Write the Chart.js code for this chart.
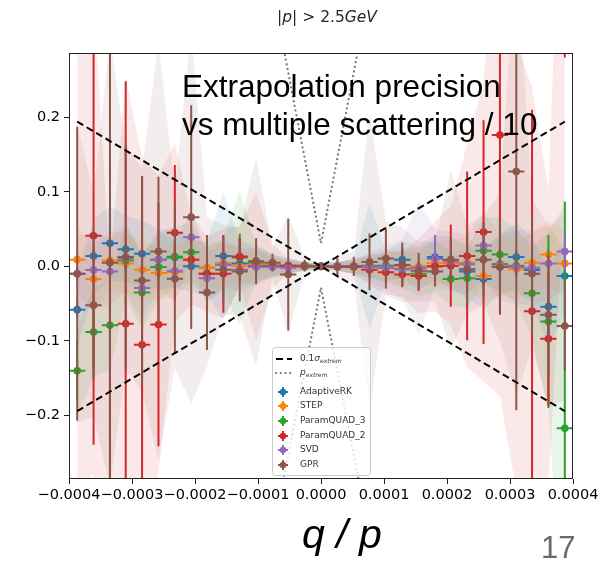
<!DOCTYPE html>
<html>
<head>
<meta charset="utf-8">
<script src="https://cdn.jsdelivr.net/npm/chart.js@4.4.0/dist/chart.umd.min.js"></script>
<style>
  html, body { margin: 0; padding: 0; background: #fff; }
  #wrap { position: relative; width: 611px; height: 561px; overflow: hidden; }
  #chart { position: absolute; left: 0; top: 0; }
  .title { position: absolute; left: 227px; top: 8px; width: 200px; text-align: center;
           font: 15.5px "DejaVu Sans"; color: #262626; }
  .title i { font-style: oblique; }
  .note { position: absolute; left: 182px; top: 67px; font: 31.5px "Liberation Sans"; line-height: 38px;
          color: #000; white-space: nowrap; }
  .xlabel { position: absolute; left: 302px; top: 511px; font: italic 41px "Liberation Sans"; color: #000;
            white-space: nowrap; }
  .page { position: absolute; left: 541px; top: 530px; font: 31px "Liberation Sans"; color: #6a6a6a; }
</style>
</head>
<body>
<div id="wrap">
  <canvas id="chart" width="611" height="561"></canvas>
  <div class="title">|<i>p</i>| &gt; 2.5<i>GeV</i></div>
  <div class="note">Extrapolation precision<br>vs multiple scattering / 10</div>
  <div class="xlabel">q / p</div>
  <div class="page">17</div>
</div>
<script>
// q/p bin centres (31 bins over ±0.0004)
const binX = [-0.000387, -0.000361, -0.000335, -0.000310, -0.000284, -0.000258, -0.000232, -0.000206,
  -0.000181, -0.000155, -0.000129, -0.000103, -0.000077, -0.000052, -0.000026, 0,
  0.000026, 0.000052, 0.000077, 0.000103, 0.000129, 0.000155, 0.000181, 0.000206,
  0.000232, 0.000258, 0.000284, 0.000310, 0.000335, 0.000361, 0.000387];
const binHalf = 0.0000129;

const xTicks = [-0.0004, -0.0003, -0.0002, -0.0001, 0, 0.0001, 0.0002, 0.0003, 0.0004];
const yTicks = [-0.2, -0.1, 0, 0.1, 0.2];

// mean residual per bin, error bar, and shaded spread
const adaptiveRK = [-0.058, 0.014, 0.031, 0.023, 0.017, 0.009, 0.012, 0.0, -0.002, 0.014, 0.004, 0.002, 0.001, 0.001, 0.0, 0.0,
  0.0, 0.0, 0.001, 0.001, 0.009, -0.002, 0.0125, 0.005, -0.007, -0.017, 0.003, 0.0125, -0.005, -0.054, -0.013];
const adaptiveRKErr = [0.01, 0.008, 0.008, 0.008, 0.008, 0.008, 0.008, 0.006, 0.006, 0.006, 0.005, 0.004, 0.003, 0.002, 0.002, 0.001,
  0.002, 0.002, 0.003, 0.004, 0.016, 0.005, 0.01, 0.006, 0.006, 0.008, 0.008, 0.008, 0.008, 0.01, 0.01];
const adaptiveRKSpread = [0.05, 0.05, 0.05, 0.045, 0.045, 0.04, 0.04, 0.035, 0.035, 0.085, 0.03, 0.025, 0.015, 0.01, 0.006, 0.003,
  0.006, 0.01, 0.085, 0.02, 0.025, 0.03, 0.03, 0.035, 0.035, 0.04, 0.04, 0.045, 0.045, 0.05, 0.05];

const step = [0.009, -0.017, 0.008, 0.004, -0.0045, -0.009, -0.008, 0.009, -0.002, 0.0045, 0.0, 0.002, 0.001, 0.0, 0.0, 0.0,
  0.0, 0.0, 0.0, -0.001, 0.0, 0.0, 0.0045, 0.005, 0.005, -0.013, 0.001, -0.004, 0.005, 0.016, 0.004];
const stepErr = [0.008, 0.008, 0.008, 0.007, 0.007, 0.007, 0.006, 0.006, 0.005, 0.005, 0.004, 0.003, 0.003, 0.002, 0.002, 0.001,
  0.002, 0.002, 0.003, 0.003, 0.004, 0.005, 0.005, 0.006, 0.006, 0.007, 0.007, 0.007, 0.008, 0.008, 0.008];
const stepSpread = [0.045, 0.045, 0.04, 0.04, 0.04, 0.035, 0.035, 0.03, 0.03, 0.03, 0.025, 0.02, 0.012, 0.008, 0.005, 0.003,
  0.005, 0.008, 0.012, 0.02, 0.025, 0.025, 0.03, 0.03, 0.035, 0.035, 0.04, 0.04, 0.04, 0.045, 0.045];

const paramQuad3 = [-0.140, -0.088, -0.079, 0.008, -0.035, -0.001, 0.013, 0.019, -0.01, 0.002, 0.012, 0.005, 0.001, 0.0, 0.0, 0.0,
  0.0, 0.0, 0.0, -0.002, -0.004, -0.01, 0.0, -0.017, -0.016, 0.021, 0.016, 0.001, -0.036, -0.074, -0.217];
const paramQuad3Err = [0.04, 0.05, 0.15, 0.02, 0.02, 0.02, 0.02, 0.02, 0.01, 0.01, 0.032, 0.01, 0.005, 0.003, 0.002, 0.001,
  0.002, 0.003, 0.004, 0.005, 0.006, 0.008, 0.01, 0.01, 0.01, 0.015, 0.015, 0.015, 0.03, 0.116, 0.304];
const paramQuad3Spread = [0.06, 0.06, 0.06, 0.05, 0.05, 0.045, 0.04, 0.04, 0.035, 0.035, 0.09, 0.025, 0.015, 0.01, 0.006, 0.003,
  0.006, 0.01, 0.015, 0.02, 0.025, 0.03, 0.035, 0.035, 0.04, 0.045, 0.05, 0.05, 0.06, 0.12, 0.3];

const paramQuad2 = [null, 0.041, -0.30, -0.077, -0.105, -0.078, 0.045, 0.009, -0.01, -0.01, 0.0134, 0.0, 0.0, 0.001, 0.0, 0.0,
  0.0, -0.001, -0.0045, -0.008, -0.011, -0.013, 0.0, 0.001, 0.014, 0.046, 0.176, null, -0.060, -0.097, 0.40];
const paramQuad2Err = [0, 0.28, 0.354, 0.325, 0.224, 0.163, 0.091, 0.012, 0.02, 0.052, 0.025, 0.008, 0.005, 0.004, 0.003, 0.002,
  0.003, 0.004, 0.01, 0.012, 0.015, 0.02, 0.01, 0.055, 0.113, 0.15, 0.24, 0, 0.27, 0.09, 0.12];
const paramQuad2Spread = [0.3, 0.32, 0.3, 0.33, 0.25, 0.2, 0.12, 0.06, 0.05, 0.06, 0.04, 0.1, 0.03, 0.01, 0.005, 0.003,
  0.005, 0.01, 0.02, 0.03, 0.03, 0.05, 0.06, 0.08, 0.15, 0.2, 0.35, 0.3, 0.3, 0.2, 0.3];

const svd = [-0.010, -0.005, -0.007, 0.011, -0.029, 0.009, -0.006, 0.039, -0.016, 0.002, -0.0045, -0.001, -0.001, -0.002, 0.001, 0.0,
  0.0, 0.0, -0.001, -0.002, -0.0036, -0.002, 0.01, 0.007, 0.003, 0.028, -0.001, -0.001, -0.002, 0.004, 0.020];
const svdErr = [0.01, 0.01, 0.01, 0.01, 0.01, 0.01, 0.01, 0.01, 0.008, 0.006, 0.005, 0.004, 0.003, 0.002, 0.002, 0.001,
  0.002, 0.002, 0.003, 0.004, 0.022, 0.005, 0.032, 0.006, 0.006, 0.01, 0.008, 0.008, 0.008, 0.01, 0.025];
const svdSpread = [0.05, 0.05, 0.045, 0.045, 0.045, 0.04, 0.04, 0.035, 0.035, 0.03, 0.03, 0.025, 0.015, 0.01, 0.006, 0.003,
  0.006, 0.01, 0.02, 0.03, 0.04, 0.09, 0.04, 0.04, 0.04, 0.045, 0.045, 0.05, 0.05, 0.05, 0.05];

const gpr = [-0.010, -0.052, 0.005, 0.0125, -0.019, 0.020, -0.0165, 0.066, -0.035, -0.0045, -0.007, 0.007, 0.005, -0.011, 0.001, 0.0,
  -0.001, 0.0, 0.006, 0.0105, 0.002, -0.006, -0.007, 0.009, -0.004, 0.009, -0.001, 0.127, -0.010, -0.065, -0.080];
const gprErr = [0.197, 0.1, 0.29, 0.15, 0.14, 0.1, 0.1, 0.15, 0.077, 0.045, 0.04, 0.031, 0.012, 0.075, 0.008, 0.004,
  0.012, 0.013, 0.038, 0.04, 0.03, 0.024, 0.02, 0.03, 0.05, 0.05, 0.064, 0.32, 0.08, 0.08, 0.06];
const gprSpread = [0.2, 0.15, 0.3, 0.15, 0.15, 0.28, 0.12, 0.25, 0.1, 0.06, 0.06, 0.14, 0.02, 0.08, 0.01, 0.004,
  0.015, 0.02, 0.2, 0.05, 0.05, 0.04, 0.04, 0.12, 0.06, 0.06, 0.1, 0.3, 0.1, 0.12, 0.1];

// reference curves
const sigmaX = [-0.000387, 0.000387];
const sigmaFall = [0.194, -0.194];
const sigmaRise = [-0.194, 0.194];
const extremX = [-0.00007, 0, 0.00007];
const extremUpper = [0.339, 0.031, 0.339];
const extremLower = [-0.330, -0.0285, -0.330];

const methods = [
  { name: 'AdaptiveRK', color: '#1f77b4', values: adaptiveRK, errs: adaptiveRKErr, spread: adaptiveRKSpread },
  { name: 'STEP', color: '#ff7f0e', values: step, errs: stepErr, spread: stepSpread },
  { name: 'ParamQUAD_3', color: '#2ca02c', values: paramQuad3, errs: paramQuad3Err, spread: paramQuad3Spread },
  { name: 'ParamQUAD_2', color: '#d62728', values: paramQuad2, errs: paramQuad2Err, spread: paramQuad2Spread },
  { name: 'SVD', color: '#9467bd', values: svd, errs: svdErr, spread: svdSpread },
  { name: 'GPR', color: '#8c564b', values: gpr, errs: gprErr, spread: gprSpread }
];

function withAlpha(hex, a) {
  const n = parseInt(hex.slice(1), 16);
  return `rgba(${n >> 16}, ${(n >> 8) & 255}, ${n & 255}, ${a})`;
}

function fmt(v, digits) {
  const s = Math.abs(v).toFixed(digits);
  return v < -1e-12 ? '\u2212' + s : s;
}

const datasets = [];

// shaded spread per method, drawn behind everything
methods.forEach(m => {
  datasets.push({
    label: m.name + ' low',
    data: binX.map((x, k) => ({ x, y: (m.values[k] ?? 0) - m.spread[k] })),
    borderWidth: 0, pointRadius: 0, fill: false, order: 50
  });
  datasets.push({
    label: m.name + ' high',
    data: binX.map((x, k) => ({ x, y: (m.values[k] ?? 0) + m.spread[k] })),
    borderWidth: 0, pointRadius: 0, fill: '-1', backgroundColor: withAlpha(m.color, 0.1), order: 50
  });
});

// markers; their error bars are drawn just before each one
methods.forEach((m, i) => {
  datasets.push({
    label: m.name,
    data: binX.map((x, k) => ({ x, y: m.values[k] })),
    showLine: false,
    pointRadius: 3.8,
    pointHoverRadius: 3.8,
    pointBackgroundColor: m.color,
    pointBorderWidth: 0,
    borderColor: m.color,
    errs: m.errs,
    order: 20 - i
  });
});

datasets.push({
  label: 'sigma fall', data: sigmaX.map((x, k) => ({ x, y: sigmaFall[k] })),
  borderColor: '#000', borderWidth: 2, borderDash: [7, 4], pointRadius: 0, fill: false, order: 2
});
datasets.push({
  label: 'sigma rise', data: sigmaX.map((x, k) => ({ x, y: sigmaRise[k] })),
  borderColor: '#000', borderWidth: 2, borderDash: [7, 4], pointRadius: 0, fill: false, order: 2
});
datasets.push({
  label: 'extrem upper', data: extremX.map((x, k) => ({ x, y: extremUpper[k] })),
  borderColor: '#7a7a7a', borderWidth: 2.2, borderDash: [0.1, 4.6], borderCapStyle: 'round', pointRadius: 0, fill: false, order: 1
});
datasets.push({
  label: 'extrem lower', data: extremX.map((x, k) => ({ x, y: extremLower[k] })),
  borderColor: '#7a7a7a', borderWidth: 2.2, borderDash: [0.1, 4.6], borderCapStyle: 'round', pointRadius: 0, fill: false, order: 1
});

const errorBars = {
  id: 'errorBars',
  beforeDatasetDraw(chart, args) {
    const ds = chart.data.datasets[args.index];
    if (!ds.errs) return;
    const { ctx, chartArea: a, scales: { x, y } } = chart;
    ctx.save();
    ctx.beginPath();
    ctx.rect(a.left, a.top, a.right - a.left, a.bottom - a.top);
    ctx.clip();
    ctx.strokeStyle = ds.borderColor;
    ctx.lineWidth = 2;
    ds.data.forEach((p, k) => {
      if (p.y === null) return;
      const px = x.getPixelForValue(p.x);
      const py = y.getPixelForValue(p.y);
      ctx.beginPath();
      ctx.moveTo(px, y.getPixelForValue(p.y - ds.errs[k]));
      ctx.lineTo(px, y.getPixelForValue(p.y + ds.errs[k]));
      ctx.moveTo(x.getPixelForValue(p.x - binHalf), py);
      ctx.lineTo(x.getPixelForValue(p.x + binHalf), py);
      ctx.stroke();
    });
    ctx.restore();
  }
};

const frameAndLegend = {
  id: 'frameAndLegend',
  afterDraw(chart) {
    const { ctx, chartArea: a } = chart;
    ctx.save();
    ctx.strokeStyle = '#222';
    ctx.lineWidth = 1;
    ctx.strokeRect(a.left + 0.5, a.top + 0.5, a.right - a.left - 1, a.bottom - a.top - 1);

    // legend box
    const bx = 272, by = 347, bw = 98, bh = 128;
    ctx.fillStyle = 'rgba(255,255,255,0.8)';
    ctx.strokeStyle = '#cccccc';
    ctx.beginPath();
    ctx.roundRect(bx + 0.5, by + 0.5, bw, bh, 3);
    ctx.fill();
    ctx.stroke();

    const hx0 = 276, hx1 = 292, tx = 300;
    ctx.textBaseline = 'middle';
    ctx.fillStyle = '#333';

    // dashed sigma entry
    let ry = 359;
    ctx.strokeStyle = '#000'; ctx.lineWidth = 2; ctx.setLineDash([7, 4]);
    ctx.beginPath(); ctx.moveTo(hx0, ry); ctx.lineTo(hx1, ry); ctx.stroke();
    ctx.font = '9px "DejaVu Sans"';
    ctx.fillText('0.1', tx, ry);
    let w = ctx.measureText('0.1').width;
    ctx.font = 'oblique 9px "DejaVu Sans"';
    ctx.fillText('\u03c3', tx + w, ry);
    w += ctx.measureText('\u03c3').width;
    ctx.font = 'oblique 6px "DejaVu Sans"';
    ctx.fillText('extrem', tx + w, ry + 2);

    // dotted extrem entry
    ry = 373;
    ctx.strokeStyle = '#7a7a7a'; ctx.lineWidth = 2.2; ctx.setLineDash([0.1, 4.6]); ctx.lineCap = 'round';
    ctx.beginPath(); ctx.moveTo(hx0, ry); ctx.lineTo(hx1, ry); ctx.stroke();
    ctx.setLineDash([]); ctx.lineCap = 'butt';
    ctx.font = 'oblique 9px "DejaVu Sans"';
    ctx.fillText('p', tx, ry);
    w = ctx.measureText('p').width;
    ctx.font = 'oblique 6px "DejaVu Sans"';
    ctx.fillText('extrem', tx + w, ry + 2);

    // method entries
    const rows = [392, 406, 421, 436, 450, 465];
    methods.forEach((m, i) => {
      const yy = rows[i], cx = 283;
      ctx.strokeStyle = m.color; ctx.fillStyle = m.color; ctx.lineWidth = 2;
      ctx.beginPath();
      ctx.moveTo(cx - 5, yy); ctx.lineTo(cx + 5, yy);
      ctx.moveTo(cx, yy - 5); ctx.lineTo(cx, yy + 5);
      ctx.stroke();
      ctx.beginPath(); ctx.arc(cx, yy, 3.2, 0, Math.PI * 2); ctx.fill();
      ctx.fillStyle = '#333';
      ctx.font = '9px "DejaVu Sans"';
      ctx.fillText(m.name, tx, yy);
    });
    ctx.restore();
  }
};

new Chart(document.getElementById('chart'), {
  type: 'line',
  data: { datasets },
  plugins: [errorBars, frameAndLegend],
  options: {
    responsive: false,
    animation: false,
    devicePixelRatio: 1,
    layout: { padding: { left: 0, top: 53, right: 38, bottom: 0 } },
    plugins: {
      legend: { display: false },
      tooltip: { enabled: false },
      filler: { drawTime: 'beforeDatasetsDraw' }
    },
    elements: { line: { tension: 0 } },
    scales: {
      x: {
        type: 'linear', min: -0.0004, max: 0.0004,
        afterBuildTicks: s => { s.ticks = xTicks.map(v => ({ value: v })); },
        afterFit: s => { s.height = 82; },
        ticks: {
          autoSkip: false, maxRotation: 0, minRotation: 0, padding: 3,
          color: '#000', font: { family: 'DejaVu Sans', size: 14.5 },
          callback: v => fmt(v, 4)
        },
        grid: { drawOnChartArea: false, drawTicks: true, tickLength: 5, color: '#222', tickWidth: 1 },
        border: { display: false }
      },
      y: {
        type: 'linear', min: -0.285, max: 0.286,
        afterBuildTicks: s => { s.ticks = yTicks.map(v => ({ value: v })); },
        afterFit: s => { s.width = 69; },
        ticks: {
          autoSkip: false, padding: 4,
          color: '#000', font: { family: 'DejaVu Sans', size: 14.5 },
          callback: v => fmt(v, 1)
        },
        grid: { drawOnChartArea: false, drawTicks: true, tickLength: 5, color: '#222', tickWidth: 1 },
        border: { display: false }
      }
    }
  }
});
</script>
</body>
</html>
